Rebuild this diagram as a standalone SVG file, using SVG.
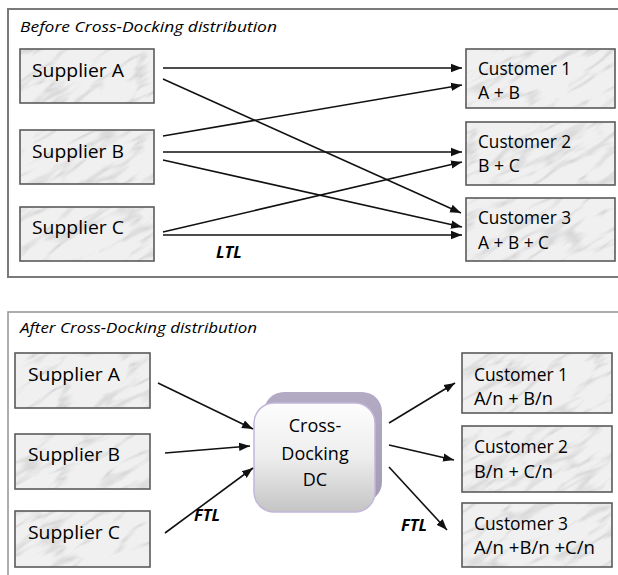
<svg xmlns="http://www.w3.org/2000/svg" width="618" height="575" viewBox="0 0 618 575">
  <defs>
    <style>
      .panel { fill: none; stroke: #8a8a8a; stroke-width: 1.6; }
      .box { fill: url(#marbleTex); stroke: #5a5a5a; stroke-width: 1.6; }
      .lbl { font-family: "Open Sans", "Liberation Sans", sans-serif; font-size: 18.5px; font-weight: 500; fill: #000; }
      .title { font-family: "Open Sans", "Liberation Sans", sans-serif; font-size: 15px; font-style: italic; font-weight: 500; fill: #000; }
      .mode { font-family: "Open Sans", "Liberation Sans", sans-serif; font-size: 16.5px; font-style: italic; font-weight: bold; fill: #000; }
      .flow { stroke: #111; stroke-width: 1.6; fill: none; marker-end: url(#head); }
      .dc { font-family: "Open Sans", "Liberation Sans", sans-serif; font-size: 18px; font-weight: 500; fill: #000; text-anchor: middle; }
    </style>
    <marker id="head" markerUnits="userSpaceOnUse" markerWidth="12" markerHeight="10" refX="11" refY="5" orient="auto">
      <path d="M0,0.8 L11,5 L0,9.2 Z" fill="#111"/>
    </marker>
    <!-- soft grey marble veins -->
    <filter id="veins" x="0" y="0" width="100%" height="100%" color-interpolation-filters="sRGB">
      <feTurbulence type="turbulence" baseFrequency="0.012 0.05" numOctaves="3" seed="7" stitchTiles="stitch" result="n"/>
      <feColorMatrix in="n" type="matrix" values="0 0 0 0 0.6  0 0 0 0 0.6  0 0 0 0 0.62  -1.4 0 0 0 0.32"/>
      <feGaussianBlur stdDeviation="0.6"/>
    </filter>
    <pattern id="marbleTex" patternUnits="userSpaceOnUse" width="240" height="240" patternTransform="rotate(-32)">
      <rect width="240" height="240" fill="#f0f0f0"/>
      <rect width="240" height="240" filter="url(#veins)"/>
    </pattern>
    <linearGradient id="dcFill" x1="0" y1="0" x2="0" y2="1">
      <stop offset="0" stop-color="#fdfdfd"/>
      <stop offset="0.5" stop-color="#ededed"/>
      <stop offset="1" stop-color="#c4c4c4"/>
    </linearGradient>
    <linearGradient id="dcBack" x1="0" y1="0" x2="0" y2="1">
      <stop offset="0" stop-color="#b2abc3"/>
      <stop offset="1" stop-color="#a39db3"/>
    </linearGradient>
  </defs>

  <!-- frames -->
  <rect class="panel" x="8" y="9" width="625" height="268" style="stroke:#7a7a7a;stroke-width:2"/>
  <rect class="panel" x="8" y="312" width="625" height="290" style="stroke:#999"/>

  <text class="title" x="20" y="32" textLength="257" lengthAdjust="spacingAndGlyphs">Before Cross-Docking distribution</text>
  <text class="title" x="20" y="333" textLength="237" lengthAdjust="spacingAndGlyphs">After Cross-Docking distribution</text>

  <!-- before: direct shipments -->
  <g id="before-suppliers">
    <g id="b-supA"><rect class="box" x="20" y="49" width="134" height="54"/><text class="lbl" x="32" y="77" textLength="92" lengthAdjust="spacingAndGlyphs">Supplier A</text></g>
    <g id="b-supB"><rect class="box" x="20" y="130" width="134" height="54"/><text class="lbl" x="32" y="158" textLength="92" lengthAdjust="spacingAndGlyphs">Supplier B</text></g>
    <g id="b-supC"><rect class="box" x="20" y="207" width="134" height="54"/><text class="lbl" x="32" y="234" textLength="92" lengthAdjust="spacingAndGlyphs">Supplier C</text></g>
  </g>
  <g id="before-customers">
    <g id="b-cus1"><rect class="box" x="466" y="49" width="149" height="59"/><text class="lbl" x="478" y="75" textLength="93" lengthAdjust="spacingAndGlyphs">Customer 1</text><text class="lbl" x="478" y="99" textLength="42" lengthAdjust="spacingAndGlyphs">A + B</text></g>
    <g id="b-cus2"><rect class="box" x="466" y="122" width="149" height="63"/><text class="lbl" x="478" y="148" textLength="93" lengthAdjust="spacingAndGlyphs">Customer 2</text><text class="lbl" x="478" y="172" textLength="42" lengthAdjust="spacingAndGlyphs">B + C</text></g>
    <g id="b-cus3"><rect class="box" x="466" y="198" width="149" height="63"/><text class="lbl" x="478" y="224" textLength="93" lengthAdjust="spacingAndGlyphs">Customer 3</text><text class="lbl" x="478" y="249" textLength="71" lengthAdjust="spacingAndGlyphs">A + B + C</text></g>
  </g>
  <g id="before-connectors">
    <line class="flow" x1="163" y1="68" x2="462" y2="68"/>
    <line class="flow" x1="163" y1="79" x2="461" y2="213"/>
    <line class="flow" x1="163" y1="136" x2="462" y2="85"/>
    <line class="flow" x1="163" y1="152" x2="462" y2="152"/>
    <line class="flow" x1="163" y1="160" x2="462" y2="227"/>
    <line class="flow" x1="163" y1="232" x2="462" y2="162"/>
    <line class="flow" x1="163" y1="235" x2="462" y2="235"/>
    <text class="mode" x="216" y="258">LTL</text>
  </g>

  <!-- after: via cross-dock -->
  <g id="after-suppliers">
    <g id="a-supA"><rect class="box" x="15" y="353" width="135" height="55"/><text class="lbl" x="28" y="381" textLength="92" lengthAdjust="spacingAndGlyphs">Supplier A</text></g>
    <g id="a-supB"><rect class="box" x="15" y="434" width="135" height="55"/><text class="lbl" x="28" y="461" textLength="92" lengthAdjust="spacingAndGlyphs">Supplier B</text></g>
    <g id="a-supC"><rect class="box" x="15" y="511" width="135" height="56"/><text class="lbl" x="28" y="539" textLength="92" lengthAdjust="spacingAndGlyphs">Supplier C</text></g>
  </g>
  <g id="dc">
    <rect x="264" y="392" width="118" height="110" rx="20" fill="url(#dcBack)"/>
    <rect x="254" y="403" width="121" height="109" rx="20" fill="url(#dcFill)" stroke="#c3b6da" stroke-width="1.5"/>
    <text class="dc" x="315" y="432">Cross-</text>
    <text class="dc" x="315" y="460">Docking</text>
    <text class="dc" x="315" y="486">DC</text>
  </g>
  <g id="after-customers">
    <g id="a-cus1"><rect class="box" x="462" y="353" width="150" height="60"/><text class="lbl" x="474" y="381" textLength="94" lengthAdjust="spacingAndGlyphs">Customer 1</text><text class="lbl" x="474" y="405" textLength="79" lengthAdjust="spacingAndGlyphs">A/n + B/n</text></g>
    <g id="a-cus2"><rect class="box" x="462" y="426" width="150" height="66"/><text class="lbl" x="474" y="453" textLength="94" lengthAdjust="spacingAndGlyphs">Customer 2</text><text class="lbl" x="474" y="478" textLength="79" lengthAdjust="spacingAndGlyphs">B/n + C/n</text></g>
    <g id="a-cus3"><rect class="box" x="462" y="503" width="150" height="64"/><text class="lbl" x="474" y="530" textLength="94" lengthAdjust="spacingAndGlyphs">Customer 3</text><text class="lbl" x="474" y="554" textLength="121" lengthAdjust="spacingAndGlyphs">A/n +B/n +C/n</text></g>
  </g>
  <g id="after-connectors">
    <line class="flow" x1="158" y1="383" x2="253" y2="429"/>
    <line class="flow" x1="165" y1="453" x2="250" y2="446"/>
    <line class="flow" x1="165" y1="533" x2="253" y2="468"/>
    <line class="flow" x1="389" y1="423" x2="455" y2="383"/>
    <line class="flow" x1="389" y1="445" x2="454" y2="460"/>
    <line class="flow" x1="389" y1="467" x2="447" y2="530"/>
    <text class="mode" x="194" y="521">FTL</text>
    <text class="mode" x="401" y="531">FTL</text>
  </g>
</svg>
